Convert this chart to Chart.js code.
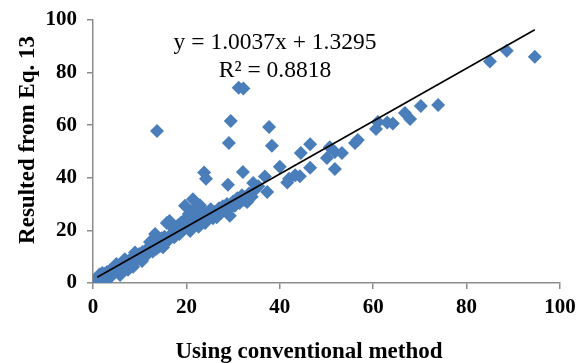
<!DOCTYPE html>
<html>
<head>
<meta charset="utf-8">
<script src="https://cdn.jsdelivr.net/npm/chart.js@4.4.1/dist/chart.umd.min.js"></script>
<style>
  html, body { margin: 0; padding: 0; background: #fff; }
  #wrap { width: 586px; height: 363px; }
</style>
</head>
<body>
<div id="wrap"><canvas id="scatterChart"></canvas></div>
<script>
// valores (x = método convencional, y = Eq. 13)
const convValues = [
    0.5, 0.7, 1.0, 1.2, 1.5, 1.8, 2.0, 2.2, 2.5, 2.8, 3.0, 3.3, 3.6, 3.9, 4.2, 4.5, 4.8, 5.1, 5.4, 5.8,
    6.0, 6.3, 6.6, 7.0, 7.3, 7.7, 8.0, 8.4, 8.8, 9.1, 9.5, 9.9, 10.2, 10.6, 11.0, 11.4, 11.8, 12.2, 12.4, 12.8,
    13.1, 13.3, 13.6, 14.0, 14.3, 14.7, 15.0, 15.3, 15.8, 16.1, 16.4, 16.8, 17.1, 17.4, 17.8, 18.2, 18.5, 18.9, 19.2, 19.7,
    19.9, 20.2, 20.5, 20.8, 21.0, 21.4, 21.6, 21.9, 22.3, 22.6, 22.9, 23.2, 23.6, 24.0, 24.4, 24.8, 25.2, 25.7, 26.1, 26.5,
    27.0, 27.4, 27.8, 28.3, 28.7, 29.3, 29.6, 30.0, 30.4, 30.9, 31.4, 31.9, 32.4, 33.0, 33.4, 34.0, 34.3, 34.8, 35.4,
    2.0, 3.0, 5.0, 6.8, 7.5, 8.6, 9.0, 10.5, 0.3, 1.4,
    13.7, 23.8, 24.2, 28.9, 29.1, 29.5, 31.2, 32.2, 32.1, 37.7, 38.3, 36.8, 37.3, 40.0, 41.6, 42.0, 43.3, 44.3, 44.5, 46.5,
    46.5, 50.1, 50.7, 51.8, 51.8, 53.3, 56.1, 56.7, 60.6, 61.0, 63.0, 64.2, 66.8, 67.9, 70.2, 73.9, 85.0, 88.6, 94.6
];
const eq13Values = [
    0.6, 1.6, 0.4, 2.2, 1.0, 2.8, 0.5, 2.0, 3.4, 2.4, 4.2, 3.0, 4.8, 2.6, 5.4, 4.0, 6.0, 4.6, 6.5, 3.0,
    5.6, 7.3, 6.0, 8.0, 6.6, 8.6, 7.4, 9.4, 8.2, 10.2, 9.0, 11.0, 9.6, 11.8, 10.4, 12.6, 11.2, 15.6, 13.4, 12.0,
    14.6, 18.6, 13.0, 16.0, 14.0, 17.0, 13.6, 17.6, 22.8, 16.2, 23.6, 18.6, 21.0, 17.4, 20.4, 22.0, 18.6, 23.0, 20.0, 29.4,
    24.4, 21.2, 26.2, 19.8, 24.0, 31.8, 28.0, 22.6, 26.0, 21.4, 29.6, 24.6, 27.4, 22.8, 26.6, 25.0, 28.0, 24.6, 27.0, 25.0,
    28.4, 26.6, 29.2, 27.6, 30.0, 25.6, 28.8, 31.0, 29.4, 32.2, 30.4, 33.4, 31.6, 30.8, 34.0, 32.8, 38.0, 35.6, 36.8,
    3.8, 1.2, 7.2, 9.0, 5.0, 6.2, 11.6, 8.4, 0.2, 3.2,
    57.8, 42.0, 39.6, 37.4, 53.2, 61.6, 74.2, 74.0, 42.2, 59.3, 52.2, 40.5, 34.6, 44.2, 38.2, 39.6, 41.0, 40.6, 49.4, 52.8,
    43.8, 47.5, 51.6, 49.8, 43.3, 49.4, 53.2, 54.4, 58.6, 61.2, 61.0, 60.6, 64.6, 62.4, 67.3, 67.7, 84.2, 88.3, 86.0
];

// linha de tendência (extremos)
const trendX = [0.9, 94.6];
const trendY = [2.2, 96.3];

const axisTicks = [0, 20, 40, 60, 80, 100];
const eqLabel = 'y = 1.0037x + 1.3295';
const r2Label = 'R² = 0.8818';
const xTitle = 'Using conventional method';
const yTitle = 'Resulted from Eq. 13';

const scatterPoints = convValues.map((x, i) => ({ x: x, y: eq13Values[i] }));
const trendPoints = trendX.map((x, i) => ({ x: x, y: trendY[i] }));

const axisGray = '#8c8c8c';
const tickFont = { family: 'Liberation Serif', size: 21, weight: 'bold' };

// textos: equação e títulos dos eixos
const textPlugin = {
    id: 'textPlugin',
    afterDraw(chart) {
        const ctx = chart.ctx;
        ctx.save();
        ctx.fillStyle = '#000';
        ctx.textAlign = 'center';
        ctx.textBaseline = 'alphabetic';
        ctx.font = '23.5px "Liberation Serif"';
        ctx.fillText(eqLabel, 275, 49);
        ctx.fillText(r2Label, 275, 77);

        ctx.font = 'bold 23px "Liberation Serif"';
        ctx.fillText(xTitle, 309, 358);

        ctx.translate(34, 140);
        ctx.rotate(-Math.PI / 2);
        ctx.fillText(yTitle, 0, 0);
        ctx.restore();
    }
};

function fixAxis(size, horizontal) {
    return function (scale) {
        if (horizontal) scale.height = size; else scale.width = size;
        scale.paddingLeft = 0;
        scale.paddingRight = 0;
        scale.paddingTop = 0;
        scale.paddingBottom = 0;
    };
}

const ctx = document.getElementById('scatterChart').getContext('2d');
new Chart(ctx, {
    type: 'scatter',
    data: {
        datasets: [{
            label: 'trend',
            data: trendPoints,
            showLine: true,
            borderColor: '#000',
            borderWidth: 1.6,
            pointRadius: 0,
            fill: false,
            order: 0
        }, {
            label: 'Eq. 13',
            data: scatterPoints,
            pointStyle: 'rectRot',
            pointRadius: 7,
            pointBorderWidth: 0,
            backgroundColor: '#4a7ebb',
            borderColor: '#4a7ebb',
            order: 1
        }]
    },
    options: {
        responsive: true,
        maintainAspectRatio: false,
        animation: false,
        layout: { padding: { left: 0, right: 26, top: 20, bottom: 0 } },
        scales: {
            x: {
                type: 'linear',
                min: 0,
                max: 100,
                afterFit: fixAxis(80, true),
                afterBuildTicks: (scale) => { scale.ticks = axisTicks.map(v => ({ value: v })); },
                grid: { drawOnChartArea: false, drawTicks: true, tickLength: 6, color: axisGray, lineWidth: 1.5 },
                border: { display: true, color: axisGray, width: 1.5 },
                ticks: { color: '#000', font: tickFont, padding: 6, maxRotation: 0 }
            },
            y: {
                type: 'linear',
                min: 0,
                max: 100,
                afterFit: fixAxis(93, false),
                afterBuildTicks: (scale) => { scale.ticks = axisTicks.map(v => ({ value: v })); },
                grid: { drawOnChartArea: false, drawTicks: true, tickLength: 6, color: axisGray, lineWidth: 1.5 },
                border: { display: true, color: axisGray, width: 1.5 },
                ticks: { color: '#000', font: tickFont, padding: 10 }
            }
        },
        plugins: {
            legend: { display: false },
            tooltip: { enabled: false }
        }
    },
    plugins: [textPlugin]
});
</script>
</body>
</html>
